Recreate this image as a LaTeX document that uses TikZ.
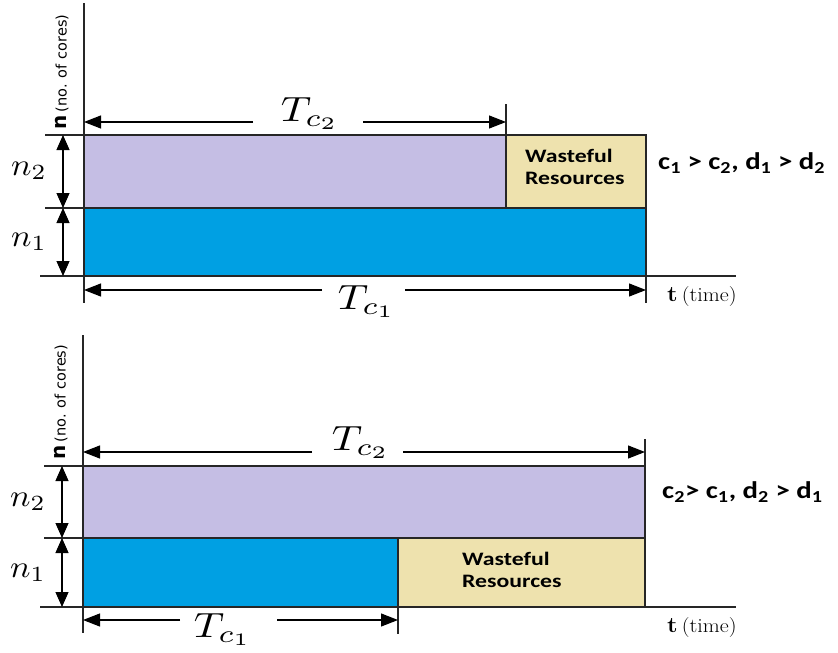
\documentclass[tikz,border=0pt]{standalone}
\usepackage{fontspec}
\usepackage{graphicx}
\usetikzlibrary{arrows.meta}
\newfontfamily\calfont{Carlito}
\newfontfamily\axfont{DejaVu Sans}
\definecolor{lilac}{RGB}{197,190,228}
\definecolor{cyanblue}{RGB}{0,160,227}
\definecolor{wheat}{RGB}{238,226,174}
\newcommand{\Tlab}[1]{\scalebox{4.2}[3.5]{\fontsize{10}{12}\selectfont$T_{c_{#1}}$}}
\newcommand{\Nlab}[1]{\scalebox{3.4}[3.1]{\fontsize{10}{12}\selectfont$n_{#1}$}}
\newcommand{\Wlab}{\scalebox{1.25}[1]{\calfont\bfseries\fontsize{19}{24}\selectfont\begin{tabular}{@{}l@{}}Wasteful\\[-2pt]Resources\end{tabular}}}
\newcommand{\Ylab}{\axfont\bfseries\fontsize{20}{20}\selectfont n\,\mdseries\fontsize{14.5}{15}\selectfont (no. of cores)}
\newcommand{\Xlab}{\scalebox{1.1}[1]{\fontsize{22}{24}\selectfont\textbf{t}\,\fontsize{20}{22}\selectfont(time)}}
\newcommand{\Cond}[1]{\scalebox{1.2}[1]{#1}}
\tikzset{
  ln/.style={line width=1.1pt, draw=black!85},
  box/.style={line width=1.1pt, draw=black!85},
  dimarrow/.style={line width=1.1pt, -{Triangle[length=17pt,width=13pt]}},
  vdim/.style={line width=1.1pt, {Triangle[length=15pt,width=13pt]}-{Triangle[length=15pt,width=13pt]}},
  tlabel/.style={inner sep=0pt, anchor=base},
  nlabel/.style={inner sep=0pt, anchor=base west},
  waste/.style={inner sep=0pt, anchor=north west},
  cond/.style={font=\calfont\bfseries\fontsize{24}{26}\selectfont, inner sep=0pt, anchor=west},
  ylab/.style={rotate=90, anchor=west, inner sep=0pt},
  xlab/.style={inner sep=0pt, anchor=west}
}
\begin{document}
\begin{tikzpicture}[x=1pt,y=-1pt]
\useasboundingbox (0,0) rectangle (838,653);
% ---------------- top panel ----------------
\fill[lilac] (84,135) rectangle (506,208);
\fill[wheat] (506,135) rectangle (646,208);
\fill[cyanblue] (84,208) rectangle (646,276);
\draw[box] (84,135) rectangle (506,208);
\draw[box] (506,135) rectangle (646,208);
\draw[box] (84,208) rectangle (646,276);
\coordinate (ay1) at (84,3);
\coordinate (ay0) at (84,303);
\draw[ln] (ay1) -- (ay0);
\coordinate (ax0) at (40,276);
\coordinate (ax1) at (736,276);
\draw[ln] (ax0) -- (ax1);
\coordinate (l2a) at (45,135); \coordinate (l2b) at (84,135);
\coordinate (l1a) at (45,208); \coordinate (l1b) at (84,208);
\draw[ln] (l2a) -- (l2b);
\draw[ln] (l1a) -- (l1b);
\coordinate (tk1a) at (506,104); \coordinate (tk1b) at (506,135);
\draw[ln] (tk1a) -- (tk1b);
\coordinate (tk2a) at (646,276); \coordinate (tk2b) at (646,303);
\draw[ln] (tk2a) -- (tk2b);
% Tc2
\node[tlabel] (tc2) at (310,121) {\Tlab{2}};
\coordinate (tc2L) at (84,122); \coordinate (tc2R) at (506,122);
\coordinate (tc2gl) at (253,122); \coordinate (tc2gr) at (363,122);
\draw[dimarrow] (tc2gl) -- (tc2L);
\draw[dimarrow] (tc2gr) -- (tc2R);
% Tc1
\node[tlabel] (tc1) at (367,309) {\Tlab{1}};
\coordinate (tc1L) at (84,290); \coordinate (tc1R) at (646,290);
\coordinate (tc1gl) at (322,290); \coordinate (tc1gr) at (405,290);
\draw[dimarrow] (tc1gl) -- (tc1L);
\draw[dimarrow] (tc1gr) -- (tc1R);
% n arrows
\coordinate (n2t) at (63,135); \coordinate (n2b) at (63,208);
\coordinate (n1t) at (63,208); \coordinate (n1b) at (63,276);
\draw[vdim] (n2t) -- (n2b);
\draw[vdim] (n1t) -- (n1b);
\node[nlabel] (n2) at (11,175) {\Nlab{2}};
\node[nlabel] (n1) at (11,246) {\Nlab{1}};
% texts
\node[waste] (w1) at (525,145) {\Wlab};
\node[cond] (c1) at (658,163) {\Cond{c\textsubscript{1} > c\textsubscript{2}, d\textsubscript{1} > d\textsubscript{2}}};
\node[ylab] (yl1) at (62,130) {\Ylab};
\node[xlab] (xl1) at (667,297) {\Xlab};
% ---------------- bottom panel ----------------
\fill[lilac] (83,466) rectangle (645,538);
\fill[cyanblue] (83,538) rectangle (398,607);
\fill[wheat] (398,538) rectangle (645,607);
\draw[box] (83,466) rectangle (645,538);
\draw[box] (83,538) rectangle (398,607);
\draw[box] (398,538) rectangle (645,607);
\coordinate (by1) at (83,335);
\coordinate (by0) at (83,633);
\draw[ln] (by1) -- (by0);
\coordinate (bx0) at (40,607);
\coordinate (bx1) at (736,607);
\draw[ln] (bx0) -- (bx1);
\coordinate (m2a) at (44,466); \coordinate (m2b) at (83,466);
\coordinate (m1a) at (44,538); \coordinate (m1b) at (83,538);
\draw[ln] (m2a) -- (m2b);
\draw[ln] (m1a) -- (m1b);
\coordinate (bk1a) at (645,439); \coordinate (bk1b) at (645,466);
\draw[ln] (bk1a) -- (bk1b);
\coordinate (bk2a) at (398,607); \coordinate (bk2b) at (398,634);
\draw[ln] (bk2a) -- (bk2b);
% Tc2
\node[tlabel] (btc2) at (361,450) {\Tlab{2}};
\coordinate (btc2L) at (83,452); \coordinate (btc2R) at (645,452);
\coordinate (btc2gl) at (312,452); \coordinate (btc2gr) at (403,452);
\draw[dimarrow] (btc2gl) -- (btc2L);
\draw[dimarrow] (btc2gr) -- (btc2R);
% Tc1
\node[tlabel] (btc1) at (223,637) {\Tlab{1}};
\coordinate (btc1L) at (83,620); \coordinate (btc1R) at (398,620);
\coordinate (btc1gl) at (180,620); \coordinate (btc1gr) at (277,620);
\draw[dimarrow] (btc1gl) -- (btc1L);
\draw[dimarrow] (btc1gr) -- (btc1R);
% n arrows
\coordinate (bn2t) at (62,466); \coordinate (bn2b) at (62,538);
\coordinate (bn1t) at (62,538); \coordinate (bn1b) at (62,607);
\draw[vdim] (bn2t) -- (bn2b);
\draw[vdim] (bn1t) -- (bn1b);
\node[nlabel] (bn2) at (10,506) {\Nlab{2}};
\node[nlabel] (bn1) at (10,577) {\Nlab{1}};
% texts
\node[waste] (w2) at (462,548) {\Wlab};
\node[cond] (c2) at (662,492) {\Cond{c\textsubscript{2}> c\textsubscript{1}, d\textsubscript{2} > d\textsubscript{1}}};
\node[ylab] (yl2) at (61,460) {\Ylab};
\node[xlab] (xl2) at (667,628) {\Xlab};
\end{tikzpicture}
\end{document}
